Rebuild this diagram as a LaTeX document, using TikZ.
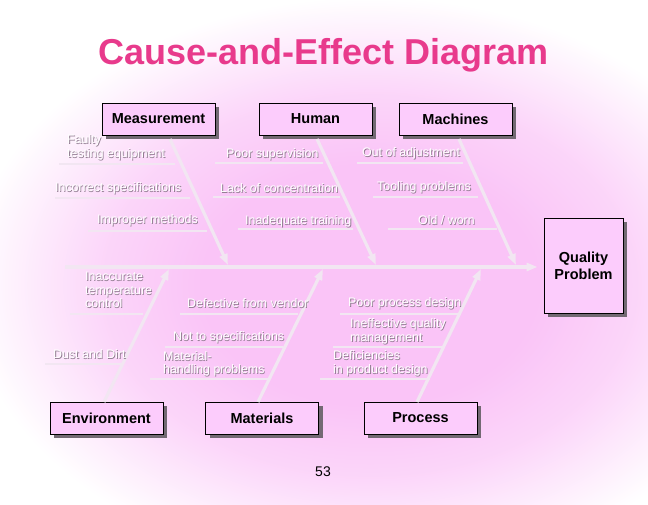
\documentclass[tikz,border=0pt]{standalone}
\usepackage{fontspec}
\setmainfont{Liberation Sans}
\usetikzlibrary{arrows.meta,shadows}
\definecolor{titlepink}{RGB}{232,58,140}
\definecolor{boxpink}{RGB}{252,204,252}
\definecolor{bgpink}{RGB}{250,196,247}
\definecolor{bonecol}{RGB}{242,230,242}
\definecolor{shadowcol}{RGB}{145,125,145}
\definecolor{boxshadow}{RGB}{115,105,115}
\pgfdeclareradialshading{bgshade}{\pgfpoint{0bp}{0bp}}{color(0bp)=(bgpink); color(10bp)=(bgpink); color(16bp)=(bgpink!70!white); color(24bp)=(white); color(50bp)=(white)}
\newcommand\ctext[4]{%
  \node[ctxts,anchor=#2,xshift=.8pt,yshift=-.8pt] (#1s) at (#3) {#4};
  \node[ctxt,anchor=#2] (#1) at (#3) {#4};}
\begin{document}
\begin{tikzpicture}[x=1pt,y=-1pt,
  catbox/.style={draw=black, line width=0.9pt, fill=boxpink, minimum width=113pt,
    minimum height=32pt, inner sep=0pt, font=\bfseries\fontsize{14.5}{16}\selectfont,
    drop shadow={shadow xshift=4pt, shadow yshift=-4pt, fill=boxshadow, opacity=1}},
  bone/.style={draw=bonecol, line width=3.2pt, -{Triangle[length=11pt,width=8pt]}},
  twig/.style={draw=bonecol, line width=2.8pt},
  ctxt/.style={text=white, inner sep=0pt, align=left, font=\fontsize{12.4}{13.5}\selectfont},
  ctxts/.style={text=shadowcol, inner sep=0pt, align=left, font=\fontsize{12.4}{13.5}\selectfont}]
\useasboundingbox (0,0) rectangle (648,504);
\fill[white] (0,0) rectangle (648,504);
\begin{scope}
\clip (0,0) rectangle (648,504);
\shade[shading=bgshade] (-50,-15) rectangle (790,585);
\end{scope}

% title
\node[text=titlepink, font=\bfseries\fontsize{36}{40}\selectfont] (title) at (324,55) {Cause-and-Effect Diagram};

% category boxes
\node[catbox] (meas) at (158.5,119) {Measurement};
\node[catbox] (hum) at (315.5,119) {Human};
\node[catbox] (mach) at (455.5,119) {Machines};
\node[catbox] (env) at (106.5,418) {Environment};
\node[catbox] (mat) at (262,418) {Materials};
\node[catbox] (proc) at (420.5,418) {Process};
\node[catbox, minimum width=79pt, minimum height=95pt, align=center,
  font=\bfseries\fontsize{14.5}{17}\selectfont] (qp) at (583.5,265.5) {Quality\\Problem};

% spine
\coordinate (sp0) at (65,267);
\draw[bone, shorten >=6pt] (sp0) -- (sp0 -| qp.west);

% bones
\coordinate (mB) at (170,139); \coordinate (mT) at (228,265);
\coordinate (hB) at (317,139); \coordinate (hT) at (376,265);
\coordinate (cB) at (459,139); \coordinate (cT) at (516,265);
\coordinate (eB) at (104,402); \coordinate (eT) at (169,269);
\coordinate (aB) at (258,402); \coordinate (aT) at (323,269);
\coordinate (pB) at (417,402); \coordinate (pT) at (481,269);
\draw[bone] (mB) -- (mT);
\draw[bone] (hB) -- (hT);
\draw[bone] (cB) -- (cT);
\draw[bone] (eB) -- (eT);
\draw[bone] (aB) -- (aT);
\draw[bone] (pB) -- (pT);

% twigs
\draw[twig] (59,164) -- (175,164);
\draw[twig] (55,198) -- (190,198);
\draw[twig] (88,231) -- (207,231);
\draw[twig] (215,163) -- (323,163);
\draw[twig] (213,197) -- (340,197);
\draw[twig] (238,229) -- (353,229);
\draw[twig] (357,163) -- (463,163);
\draw[twig] (373,197) -- (478,197);
\draw[twig] (388,229) -- (497,229);
\draw[twig] (70,314) -- (143,314);
\draw[twig] (45,364) -- (122,364);
\draw[twig] (180,314) -- (298,314);
\draw[twig] (165,347) -- (283,347);
\draw[twig] (150,379) -- (270,379);
\draw[twig] (340,314) -- (458,314);
\draw[twig] (333,347) -- (442,347);
\draw[twig] (320,379) -- (430,379);

% cause texts
\ctext{c1}{west}{67,147.5}{Faulty\\testing equipment}
\ctext{c2}{west}{55,188}{Incorrect specifications}
\ctext{c3}{west}{97,220}{Improper methods}
\ctext{c4}{west}{226,154}{Poor supervision}
\ctext{c5}{west}{220,188}{Lack of concentration}
\ctext{c6}{west}{245,221}{Inadequate training}
\ctext{c7}{west}{362,153}{Out of adjustment}
\ctext{c8}{west}{377,187}{Tooling problems}
\ctext{c9}{west}{418,220}{Old / worn}
\ctext{c10}{west}{85,290}{Inaccurate\\temperature\\control}
\ctext{c11}{west}{53,354}{Dust and Dirt}
\ctext{c12}{west}{187,303}{Defective from vendor}
\ctext{c13}{west}{173,337}{Not to specifications}
\ctext{c14}{west}{163,364}{Material-\\handling problems}
\ctext{c15}{west}{348,303}{Poor process design}
\ctext{c16}{west}{350,331.5}{Ineffective quality\\management}
\ctext{c17}{west}{333,363.5}{Deficiencies\\in product design}

% page number
\node[font=\fontsize{14}{16}\selectfont] (pg) at (323,472) {53};
\end{tikzpicture}
\end{document}
